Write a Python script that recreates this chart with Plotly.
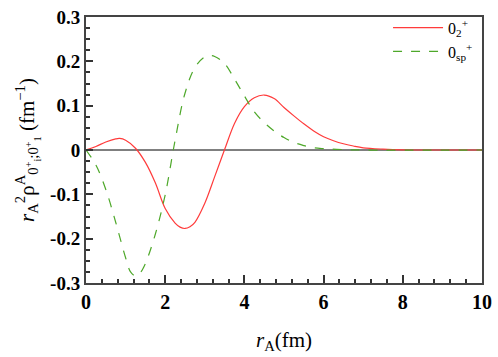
import plotly.graph_objects as go

# density curves
r_02 = [0, 0.25, 0.5, 0.75, 0.85, 1.0, 1.25, 1.5, 1.75, 2.0, 2.25, 2.375, 2.5, 2.625,
        2.75, 3.0, 3.25, 3.5, 3.75, 4.0, 4.25, 4.5, 4.75, 5.0, 5.25, 5.5, 5.75, 6.0,
        6.25, 6.5, 6.75, 7.0, 7.5, 8.0, 9.0, 10.0]
rho_02 = [0, 0.008, 0.018, 0.025, 0.026, 0.022, 0.004, -0.028, -0.074, -0.132, -0.165,
          -0.174, -0.177, -0.173, -0.163, -0.120, -0.060, 0.001, 0.060, 0.098, 0.118,
          0.124, 0.116, 0.096, 0.077, 0.059, 0.043, 0.030, 0.021, 0.014, 0.009, 0.005,
          0.002, 0.0005, 0, 0]

r_sp = [0, 0.25, 0.5, 0.75, 1.0, 1.125, 1.25, 1.375, 1.5, 1.75, 2.0, 2.25, 2.5, 2.75,
        3.0, 3.15, 3.25, 3.5, 3.75, 4.0, 4.25, 4.5, 4.75, 5.0, 5.25, 5.5, 5.75, 6.0,
        6.5, 7.0, 10.0]
rho_sp = [0, -0.034, -0.089, -0.163, -0.243, -0.275, -0.284, -0.276, -0.256, -0.190,
          -0.101, 0.022, 0.128, 0.186, 0.210, 0.213, 0.211, 0.195, 0.160, 0.122, 0.086,
          0.062, 0.043, 0.028, 0.017, 0.010, 0.005, 0.003, 0.001, 0, 0]

x_ticks = [0, 2, 4, 6, 8, 10]
y_ticks = [-0.3, -0.2, -0.1, 0, 0.1, 0.2, 0.3]
y_labels = ["-0.3", "-0.2", "-0.1", "0", "0.1", "0.2", "0.3"]

serif = "Liberation Serif"

fig = go.Figure()

# zero line
fig.add_trace(go.Scatter(
    x=[0, 10], y=[0, 0], mode='lines',
    line=dict(color='black', width=1),
    showlegend=False, hoverinfo='skip'
))

fig.add_trace(go.Scatter(
    x=r_02, y=rho_02, mode='lines',
    line=dict(color='#ff3b3b', width=1.2, shape='spline', smoothing=1.0),
    name='0<sub>2</sub><sup>+</sup>'
))

fig.add_trace(go.Scatter(
    x=r_sp, y=rho_sp, mode='lines',
    line=dict(color='#4ea82a', width=1.2, dash='dash', shape='spline', smoothing=1.0),
    name='0<sub>sp</sub><sup>+</sup>'
))

fig.update_layout(
    width=498, height=357,
    margin=dict(l=86, r=16, t=16, b=74),
    paper_bgcolor='white', plot_bgcolor='white',
    font=dict(family=serif, color='black'),
    legend=dict(
        x=0.99, y=1.02, xanchor='right', yanchor='top',
        bgcolor='rgba(0,0,0,0)', font=dict(size=16, family=serif),
        itemwidth=50, tracegroupgap=0
    ),
    xaxis=dict(
        range=[0, 10], tickvals=x_ticks, automargin=False,
        ticks='inside', ticklen=8, tickwidth=1.5, tickcolor='#333',
        minor=dict(dtick=0.4, ticks='inside', ticklen=4, tickcolor='#333'),
        showline=True, linecolor='#444', linewidth=2, mirror=True,
        showgrid=False, zeroline=False,
        tickfont=dict(size=20, family=serif, weight='bold'),
        title=dict(text='<i>r</i><sub>A</sub>(fm)', font=dict(size=21, family=serif),
                   standoff=20)
    ),
    yaxis=dict(
        range=[-0.3, 0.3], tickvals=y_ticks, ticktext=y_labels, automargin=False,
        ticks='inside', ticklen=7, tickwidth=1.5, tickcolor='#333',
        minor=dict(dtick=0.025, ticks='inside', ticklen=4, tickcolor='#333'),
        showline=True, linecolor='#444', linewidth=2, mirror=True,
        showgrid=False, zeroline=False,
        tickfont=dict(size=19, family=serif, weight='bold'),
        title=dict(text='<i>r</i><sub>A</sub><sup>2</sup>ρ<sup>A</sup><sub>0<sup>+</sup><sub>i</sub>;0<sup>+</sup><sub>1</sub></sub> (fm<sup>−1</sup>)',
                   font=dict(size=21, family=serif), standoff=10)
    )
)

# drop the default 8px body margin so the figure sits at the page corner
fig.write_html("out.html", config={'displayModeBar': False},
               post_script="document.body.style.margin='0';")
